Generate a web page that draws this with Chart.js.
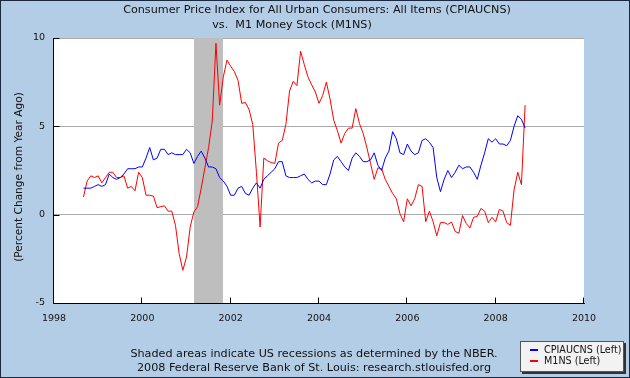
<!DOCTYPE html>
<html><head><meta charset="utf-8">
<script src="https://cdn.jsdelivr.net/npm/chart.js@4.4.1/dist/chart.umd.min.js"></script>
<style>html,body{margin:0;padding:0;background:#B4CDE6;overflow:hidden}canvas{display:block}</style>
</head><body><canvas id="c" width="630" height="378"></canvas>
<script>
// ---- text ----
const titleLines = ["Consumer Price Index for All Urban Consumers: All Items (CPIAUCNS)", "vs.  M1 Money Stock (M1NS)"];
const yAxisTitle = "(Percent Change from Year Ago)";
const footerLines = ["Shaded areas indicate US recessions as determined by the NBER.", "2008 Federal Reserve Bank of St. Louis: research.stlouisfed.org"];
const seriesNames = ["CPIAUCNS (Left)", "M1NS (Left)"];

// ---- categories (monthly, starting Sep 1998) ----
const firstMonth = "1998-09";

// ---- series values (% change from year ago) ----
const cpiaucns = [
  1.5,1.5,1.5,1.6, 1.7,1.6,1.7,2.3,2.1,2.0,2.1,2.3,
  2.6,2.6,2.6,2.7,
  2.7,3.2,3.8,3.1,3.2,3.7,3.7,3.4,3.5,3.4,3.4,3.4,
  3.7,3.5,2.9,3.3,3.6,3.2,2.7,2.7,2.6,2.1,1.9,1.6,
  1.1,1.1,1.5,1.6,1.2,1.1,1.5,1.8,1.5,2.0,2.2,2.4,
  2.6,3.0,3.0,2.2,2.1,2.1,2.1,2.2,2.3,2.0,1.8,1.9,
  1.9,1.7,1.7,2.3,3.1,3.3,3.0,2.7,2.5,3.2,3.5,3.3,
  3.0,3.0,3.1,3.5,2.8,2.5,3.2,3.6,4.7,4.3,3.5,3.4,
  4.0,3.6,3.4,3.5,4.2,4.3,4.1,3.8,2.1,1.3,2.0,2.5,
  2.1,2.4,2.8,2.6,2.7,2.7,2.4,2.0,2.8,3.5,4.3,4.1,
  4.3,4.0,4.0,3.9,4.2,5.0,5.6,5.4,4.9
];
const m1ns = [
  1.0,1.9,2.2,2.1, 2.2,1.8,2.1,2.4,2.4,2.1,2.1,2.2,
  1.5,1.6,1.35,2.4,
  2.1,1.1,1.1,1.05,0.4,0.45,0.5,0.2,0.2,-0.6,-2.2,-3.15,
  -2.4,-0.7,0.15,0.45,1.5,2.65,3.8,5.3,9.7,6.2,7.8,8.75,
  8.4,8.1,7.6,6.3,6.35,5.95,5.1,2.4,-0.7,3.2,3.05,2.95,
  2.9,4.05,4.2,5.1,7.0,7.55,7.3,9.25,8.5,7.8,7.35,6.95,
  6.3,6.75,7.5,6.55,5.35,4.75,4.05,4.6,4.9,4.9,6.0,5.15,
  4.6,3.8,2.9,2.0,2.65,2.6,2.0,1.6,1.2,0.9,0.05,-0.4,
  0.9,0.5,0.9,1.7,1.6,-0.4,0.2,-0.4,-1.2,-0.45,-0.45,-0.55,
  -0.42,-0.95,-1.05,-0.05,-0.5,-0.75,-0.15,-0.1,0.35,0.2,-0.45,-0.15,
  -0.4,0.3,0.2,-0.45,-0.6,1.4,2.4,1.7,6.2
];

// ---- recessions and tick labels ----
const recessions = [["2001-03", "2001-11"]];
const xTickLabels = [1998, 2000, 2002, 2004, 2006, 2008, 2010];
const yTickLabels = [-5, 0, 5, 10];

function toYear(m) { const [y, mo] = m.split("-").map(Number); return y + (mo - 1) / 12; }
function monthList(start, n) {
  const out = []; let [y, m] = start.split("-").map(Number);
  for (let i = 0; i < n; i++) { out.push(y + "-" + String(m).padStart(2, "0")); m++; if (m > 12) { m = 1; y++; } }
  return out;
}
const months = monthList(firstMonth, cpiaucns.length);

const FONT = "'DejaVu Sans', Verdana, sans-serif";
const BG = "#B4CDE6";
const TXT = "#111111";

const deco = {
  id: "deco",
  beforeDraw(chart) {
    const { ctx, chartArea: a, width, height } = chart;
    ctx.save();
    ctx.fillStyle = BG; ctx.fillRect(0, 0, width, height);
    ctx.fillStyle = "#FFFFFF"; ctx.fillRect(a.left, a.top, a.right - a.left, a.bottom - a.top);
    ctx.restore();
  },
  beforeDatasetsDraw(chart) {
    const { ctx, chartArea: a, scales: { x } } = chart;
    ctx.save();
    ctx.fillStyle = "#BEBEBE";
    recessions.forEach(([s, e]) => {
      const x0 = Math.round(x.getPixelForValue(toYear(s)));
      const x1 = Math.round(x.getPixelForValue(toYear(e)));
      ctx.fillRect(x0, a.top, x1 - x0, a.bottom - a.top);
    });
    ctx.restore();
  },
  afterDatasetsDraw(chart) {
    const { ctx, chartArea: a, scales: { x, y } } = chart;
    ctx.save();
    ctx.strokeStyle = "#000"; ctx.lineWidth = 1;
    const lx = Math.round(a.left) - 0.5;
    const by = Math.round(y.getPixelForValue(yTickLabels[0])) + 0.5;
    ctx.beginPath();
    ctx.moveTo(lx, Math.round(y.getPixelForValue(yTickLabels[yTickLabels.length - 1])));
    ctx.lineTo(lx, by); ctx.lineTo(Math.round(a.right) + 1, by);
    yTickLabels.forEach(v => { const py = Math.round(y.getPixelForValue(v)) + 0.5; ctx.moveTo(lx, py); ctx.lineTo(lx + 6, py); });
    xTickLabels.forEach(v => { const px = Math.round(x.getPixelForValue(v)) - 0.5; ctx.moveTo(px, by); ctx.lineTo(px, by - 6); });
    ctx.stroke();
    ctx.restore();
  },
  afterDraw(chart) {
    const { ctx, chartArea: a, width, height } = chart;
    ctx.save();
    ctx.fillStyle = TXT; ctx.textBaseline = "middle"; ctx.textAlign = "center";
    ctx.font = "11.2px " + FONT;
    ctx.fillText(titleLines[0], 317, 10);
    ctx.fillText(titleLines[1], 292, 25);
    ctx.fillText(footerLines[0], 314, 354);
    ctx.fillText(footerLines[1], 314, 368);
    // y axis title
    ctx.save();
    ctx.font = "10.6px " + FONT;
    ctx.translate(19, 177); ctx.rotate(-Math.PI / 2);
    ctx.fillText(yAxisTitle, 0, 0);
    ctx.restore();
    // legend box
    const bx = 520, bw = 104, byy = 341, bh = 31;
    ctx.fillStyle = "#333333"; ctx.fillRect(bx + 2, byy + 2, bw, bh);
    ctx.fillStyle = "#F2F2F2"; ctx.fillRect(bx, byy, bw, bh);
    ctx.strokeStyle = "#555555"; ctx.lineWidth = 1; ctx.strokeRect(bx + 0.5, byy + 0.5, bw - 1, bh - 1);
    const cols = ["#0000FF", "#FF0000"];
    ctx.font = "9.6px " + FONT; ctx.textAlign = "left";
    seriesNames.forEach((n, i) => {
      const yy = byy + 9 + i * 11;
      ctx.fillStyle = cols[i]; ctx.fillRect(530, yy - 1, 8, 2);
      ctx.fillStyle = TXT; ctx.fillText(n, 544, yy);
    });
    // outer border
    ctx.strokeStyle = "#1A2840"; ctx.strokeRect(0.5, 0.5, width - 1, height - 1);
    ctx.restore();
  }
};

new Chart(document.getElementById("c"), {
  type: "line",
  data: {
    datasets: [
      { label: seriesNames[0], data: months.map((m, i) => ({ x: toYear(m), y: cpiaucns[i] })), borderColor: "#0000FF", borderWidth: 1, pointRadius: 0, tension: 0, fill: false },
      { label: seriesNames[1], data: months.map((m, i) => ({ x: toYear(m), y: m1ns[i] })), borderColor: "#FF0000", borderWidth: 1, pointRadius: 0, tension: 0, fill: false }
    ]
  },
  options: {
    responsive: false, animation: false, devicePixelRatio: 1,
    layout: { padding: { left: 0, right: 46, top: 38, bottom: 0 } },
    plugins: { legend: { display: false }, title: { display: false }, tooltip: { enabled: false } },
    scales: {
      x: {
        type: "linear", min: 1998, max: 2010,
        afterBuildTicks: s => { s.ticks = xTickLabels.map(v => ({ value: v })); },
        afterFit: s => { s.height = 75; },
        ticks: { callback: v => String(v), font: { family: FONT, size: 9.5 }, color: TXT, padding: 10, maxRotation: 0, autoSkip: false },
        grid: { display: false, drawTicks: false },
        border: { display: false }
      },
      y: {
        min: -5, max: 10,
        afterBuildTicks: s => { s.ticks = yTickLabels.map(v => ({ value: v })); },
        afterFit: s => { s.width = 54; },
        ticks: { callback: v => String(v), font: { family: FONT, size: 9.5 }, color: TXT, padding: 9 },
        grid: { color: c => (c.tick && c.tick.value === yTickLabels[0]) ? "rgba(0,0,0,0)" : "#AAAAAA", drawTicks: false, lineWidth: 1 },
        border: { display: false }
      }
    }
  },
  plugins: [deco]
});
</script>
</body></html>
